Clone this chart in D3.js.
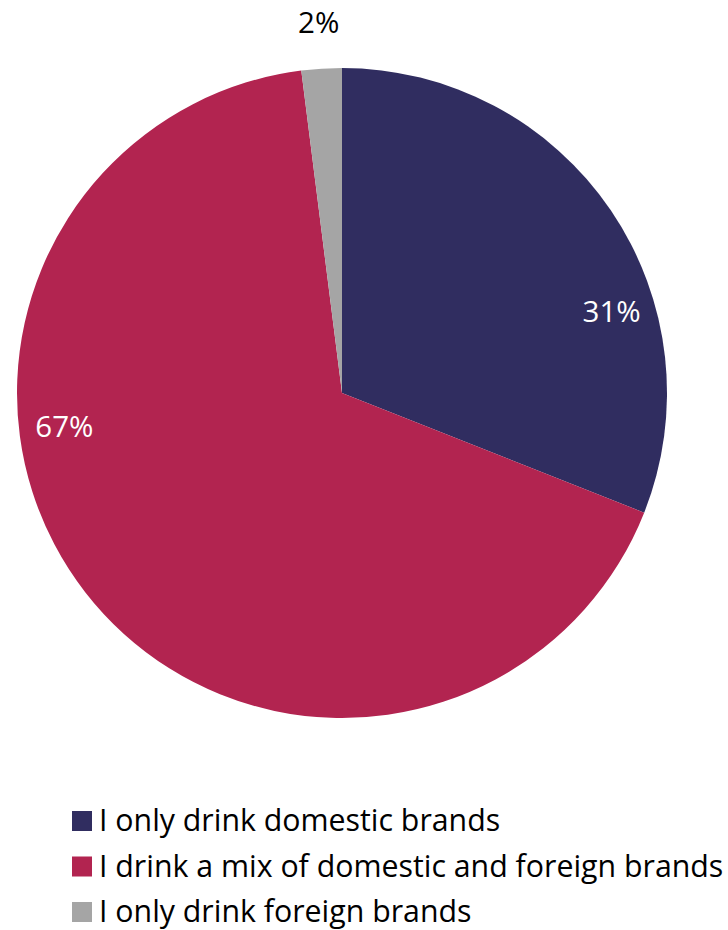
<!DOCTYPE html>
<html>
<head>
<meta charset="utf-8">
<script src="https://cdn.jsdelivr.net/npm/d3@7"></script>
<style>
  html, body { margin: 0; padding: 0; background: #fff; }
  svg { display: block; font-family: "Open Sans", "Noto Sans", sans-serif; }
</style>
</head>
<body>
<svg id="chart" width="728" height="930"></svg>
<script>
// Survey answers and their shares (%)
const categories = [
  "I only drink domestic brands",
  "I drink a mix of domestic and foreign brands",
  "I only drink foreign brands"
];
const values = [31, 67, 2];
const colors = ["#302d60", "#b22450", "#a5a5a5"];
const labelColors = ["#ffffff", "#ffffff", "#000000"];

// Label placement: angle (deg, clockwise from top) and distance as a fraction of the radius
const labelPlacement = [
  { angle: 72.9, dist: 0.868 },
  { angle: 263.4, dist: 0.86 },
  { angle: null, dist: 1.145 } // null = slice mid-angle
];

const svg = d3.select("#chart");
const cx = 342, cy = 393, radius = 325;

const data = categories.map((c, i) => ({ name: c, value: values[i], color: colors[i], i }));

const pie = d3.pie().sort(null).value(d => d.value);
const arcs = pie(data);
const arc = d3.arc().innerRadius(0).outerRadius(radius);

const g = svg.append("g").attr("transform", `translate(${cx},${cy})`);

g.selectAll("path.slice")
  .data(arcs)
  .join("path")
  .attr("class", "slice")
  .attr("d", arc)
  .attr("fill", d => d.data.color);

// Percent labels
g.selectAll("text.pct")
  .data(arcs)
  .join("text")
  .attr("class", "pct")
  .attr("text-anchor", "middle")
  .attr("dominant-baseline", "central")
  .attr("font-size", 29.5)
  .attr("fill", d => labelColors[d.data.i])
  .attr("transform", d => {
    const p = labelPlacement[d.data.i];
    const a = p.angle == null ? (d.startAngle + d.endAngle) / 2 : p.angle * Math.PI / 180;
    const r = p.dist * radius;
    return `translate(${r * Math.sin(a)},${-r * Math.cos(a)})`;
  })
  .text(d => d.data.value + "%");

// Legend
const legend = svg.append("g").attr("transform", "translate(72,821)");
const rowH = 45.5;
const items = legend.selectAll("g.item")
  .data(data)
  .join("g")
  .attr("class", "item")
  .attr("transform", (d, i) => `translate(0,${i * rowH})`);

items.append("rect")
  .attr("x", 0).attr("y", -10)
  .attr("width", 20).attr("height", 20)
  .attr("fill", d => d.color);

items.append("text")
  .attr("x", 27)
  .attr("y", 10)
  .attr("font-size", 30.3)
  .attr("fill", "#000")
  .text(d => d.name);
</script>
</body>
</html>
